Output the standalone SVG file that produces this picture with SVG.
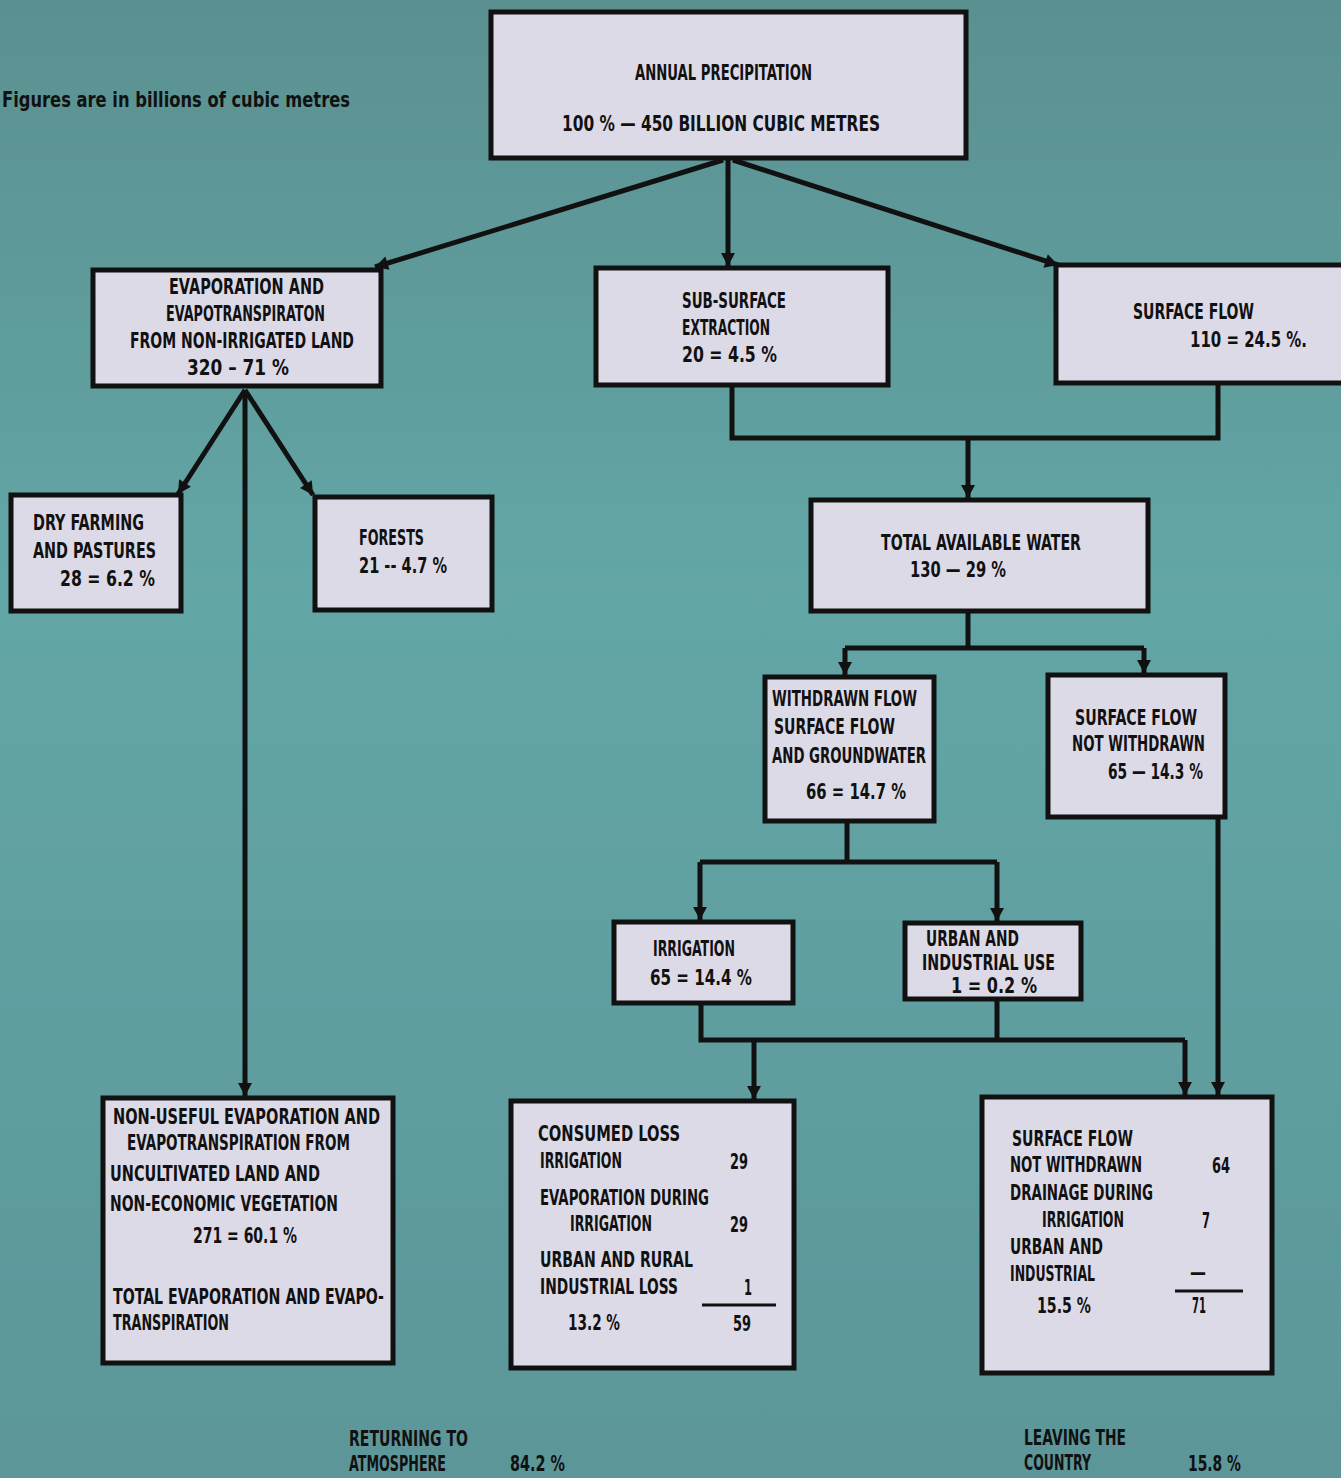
<svg xmlns="http://www.w3.org/2000/svg" width="1341" height="1478" viewBox="0 0 1341 1478">
<defs>
<linearGradient id="bg" x1="0" y1="0" x2="0" y2="1">
<stop offset="0" stop-color="#5b9090"/>
<stop offset="0.4" stop-color="#63a6a6"/>
<stop offset="1" stop-color="#5c9699"/>
</linearGradient>
<marker id="ah" markerUnits="userSpaceOnUse" markerWidth="16" markerHeight="16" viewBox="0 0 16 16" refX="15" refY="8" orient="auto">
<path d="M2,1 L15,8 L2,15 Z" fill="#111"/>
</marker>
<style>
.box{fill:#dddae7;stroke:#111;stroke-width:5}
.c{fill:none;stroke:#111;stroke-width:5;stroke-linejoin:miter}
.a{marker-end:url(#ah)}
text{font-family:"Liberation Sans Narrow","DejaVu Sans Condensed","Liberation Sans",sans-serif;font-weight:bold;font-size:22px;fill:#111}
</style>
</defs>
<rect width="1341" height="1478" fill="url(#bg)"/>

<text x="2" y="107" textLength="348" lengthAdjust="spacingAndGlyphs">Figures are in billions of cubic metres</text>

<g id="connectors">
<path class="c a" d="M723,160 L375,267"/>
<path class="c a" d="M728,160 L728,266"/>
<path class="c a" d="M733,160 L1058,265"/>
<path class="c a" d="M245,390 L178,494"/>
<path class="c a" d="M245,390 L313,495"/>
<path class="c a" d="M245,390 L245,1096"/>
<path class="c" d="M732,386 L732,438 L1218,438 L1218,383"/>
<path class="c a" d="M968,438 L968,498"/>
<path class="c" d="M968,612 L968,648"/>
<path class="c" d="M845,648 L1144,648"/>
<path class="c a" d="M845,648 L845,675"/>
<path class="c a" d="M1144,648 L1144,673"/>
<path class="c" d="M847,822 L847,862"/>
<path class="c" d="M700,862 L997,862"/>
<path class="c a" d="M700,862 L700,920"/>
<path class="c a" d="M997,862 L997,921"/>
<path class="c" d="M701,1004 L701,1040 L1185,1040"/>
<path class="c a" d="M1185,1040 L1185,1095"/>
<path class="c" d="M997,1000 L997,1040"/>
<path class="c a" d="M754,1040 L754,1099"/>
<path class="c a" d="M1218,818 L1218,1095"/>
</g>

<g id="annual-precipitation">
<rect class="box" x="491" y="12" width="475" height="146"/>
<text x="635" y="80" textLength="177" lengthAdjust="spacingAndGlyphs">ANNUAL PRECIPITATION</text>
<text x="562" y="131" textLength="318" lengthAdjust="spacingAndGlyphs">100 % — 450 BILLION CUBIC METRES</text>
</g>

<g id="evaporation">
<rect class="box" x="93" y="270" width="288" height="116"/>
<text x="169" y="294" textLength="155" lengthAdjust="spacingAndGlyphs">EVAPORATION AND</text>
<text x="166" y="321" textLength="159" lengthAdjust="spacingAndGlyphs">EVAPOTRANSPIRATON</text>
<text x="130" y="348" textLength="224" lengthAdjust="spacingAndGlyphs">FROM NON-IRRIGATED LAND</text>
<text x="187" y="375" textLength="102" lengthAdjust="spacingAndGlyphs">320 – 71 %</text>
</g>

<g id="dry-farming">
<rect class="box" x="11" y="495" width="170" height="116"/>
<text x="33" y="530" textLength="111" lengthAdjust="spacingAndGlyphs">DRY FARMING</text>
<text x="33" y="558" textLength="123" lengthAdjust="spacingAndGlyphs">AND PASTURES</text>
<text x="60" y="586" textLength="95" lengthAdjust="spacingAndGlyphs">28 = 6.2 %</text>
</g>

<g id="forests">
<rect class="box" x="315" y="497" width="177" height="113"/>
<text x="359" y="545" textLength="65" lengthAdjust="spacingAndGlyphs">FORESTS</text>
<text x="359" y="573" textLength="88" lengthAdjust="spacingAndGlyphs">21 -- 4.7 %</text>
</g>

<g id="sub-surface">
<rect class="box" x="596" y="268" width="292" height="117"/>
<text x="682" y="308" textLength="104" lengthAdjust="spacingAndGlyphs">SUB-SURFACE</text>
<text x="682" y="335" textLength="88" lengthAdjust="spacingAndGlyphs">EXTRACTION</text>
<text x="682" y="362" textLength="95" lengthAdjust="spacingAndGlyphs">20 = 4.5 %</text>
</g>

<g id="surface-flow">
<rect class="box" x="1056" y="265" width="290" height="118"/>
<text x="1133" y="319" textLength="121" lengthAdjust="spacingAndGlyphs">SURFACE FLOW</text>
<text x="1190" y="347" textLength="117" lengthAdjust="spacingAndGlyphs">110 = 24.5 %.</text>
</g>

<g id="total-available">
<rect class="box" x="811" y="500" width="337" height="111"/>
<text x="881" y="550" textLength="200" lengthAdjust="spacingAndGlyphs">TOTAL AVAILABLE WATER</text>
<text x="910" y="577" textLength="96" lengthAdjust="spacingAndGlyphs">130 — 29 %</text>
</g>

<g id="withdrawn-flow">
<rect class="box" x="765" y="677" width="169" height="144"/>
<text x="772" y="706" textLength="145" lengthAdjust="spacingAndGlyphs">WITHDRAWN FLOW</text>
<text x="774" y="734" textLength="121" lengthAdjust="spacingAndGlyphs">SURFACE FLOW</text>
<text x="772" y="763" textLength="154" lengthAdjust="spacingAndGlyphs">AND GROUNDWATER</text>
<text x="806" y="799" textLength="100" lengthAdjust="spacingAndGlyphs">66 = 14.7 %</text>
</g>

<g id="not-withdrawn">
<rect class="box" x="1048" y="675" width="177" height="142"/>
<text x="1075" y="725" textLength="122" lengthAdjust="spacingAndGlyphs">SURFACE FLOW</text>
<text x="1072" y="751" textLength="133" lengthAdjust="spacingAndGlyphs">NOT WITHDRAWN</text>
<text x="1108" y="779" textLength="95" lengthAdjust="spacingAndGlyphs">65 — 14.3 %</text>
</g>

<g id="irrigation">
<rect class="box" x="614" y="922" width="179" height="81"/>
<text x="653" y="956" textLength="82" lengthAdjust="spacingAndGlyphs">IRRIGATION</text>
<text x="650" y="985" textLength="102" lengthAdjust="spacingAndGlyphs">65 = 14.4 %</text>
</g>

<g id="urban-industrial">
<rect class="box" x="905" y="923" width="176" height="76"/>
<text x="926" y="946" textLength="93" lengthAdjust="spacingAndGlyphs">URBAN AND</text>
<text x="922" y="970" textLength="133" lengthAdjust="spacingAndGlyphs">INDUSTRIAL USE</text>
<text x="951" y="993" textLength="86" lengthAdjust="spacingAndGlyphs">1 = 0.2 %</text>
</g>

<g id="non-useful">
<rect class="box" x="103" y="1098" width="290" height="265"/>
<text x="113" y="1124" textLength="267" lengthAdjust="spacingAndGlyphs">NON-USEFUL EVAPORATION AND</text>
<text x="127" y="1150" textLength="223" lengthAdjust="spacingAndGlyphs">EVAPOTRANSPIRATION FROM</text>
<text x="110" y="1181" textLength="210" lengthAdjust="spacingAndGlyphs">UNCULTIVATED LAND AND</text>
<text x="110" y="1211" textLength="228" lengthAdjust="spacingAndGlyphs">NON-ECONOMIC VEGETATION</text>
<text x="193" y="1243" textLength="104" lengthAdjust="spacingAndGlyphs">271 = 60.1 %</text>
<text x="113" y="1304" textLength="271" lengthAdjust="spacingAndGlyphs">TOTAL EVAPORATION AND EVAPO-</text>
<text x="113" y="1330" textLength="116" lengthAdjust="spacingAndGlyphs">TRANSPIRATION</text>
</g>

<g id="consumed">
<rect class="box" x="511" y="1101" width="283" height="267"/>
<text x="538" y="1141" textLength="142" lengthAdjust="spacingAndGlyphs">CONSUMED LOSS</text>
<text x="540" y="1168" textLength="82" lengthAdjust="spacingAndGlyphs">IRRIGATION</text>
<text x="730" y="1169" textLength="18" lengthAdjust="spacingAndGlyphs">29</text>
<text x="540" y="1205" textLength="169" lengthAdjust="spacingAndGlyphs">EVAPORATION DURING</text>
<text x="570" y="1231" textLength="82" lengthAdjust="spacingAndGlyphs">IRRIGATION</text>
<text x="730" y="1232" textLength="18" lengthAdjust="spacingAndGlyphs">29</text>
<text x="540" y="1267" textLength="153" lengthAdjust="spacingAndGlyphs">URBAN AND RURAL</text>
<text x="540" y="1294" textLength="138" lengthAdjust="spacingAndGlyphs">INDUSTRIAL LOSS</text>
<text x="744" y="1295" textLength="8" lengthAdjust="spacingAndGlyphs">1</text>
<line x1="702" y1="1305" x2="776" y2="1305" stroke="#111" stroke-width="3"/>
<text x="568" y="1330" textLength="52" lengthAdjust="spacingAndGlyphs">13.2 %</text>
<text x="733" y="1331" textLength="18" lengthAdjust="spacingAndGlyphs">59</text>
</g>

<g id="leaving-total">
<rect class="box" x="982" y="1097" width="290" height="276"/>
<text x="1012" y="1146" textLength="121" lengthAdjust="spacingAndGlyphs">SURFACE FLOW</text>
<text x="1010" y="1172" textLength="132" lengthAdjust="spacingAndGlyphs">NOT WITHDRAWN</text>
<text x="1212" y="1173" textLength="18" lengthAdjust="spacingAndGlyphs">64</text>
<text x="1010" y="1200" textLength="143" lengthAdjust="spacingAndGlyphs">DRAINAGE DURING</text>
<text x="1042" y="1227" textLength="82" lengthAdjust="spacingAndGlyphs">IRRIGATION</text>
<text x="1202" y="1228" textLength="8" lengthAdjust="spacingAndGlyphs">7</text>
<text x="1010" y="1254" textLength="93" lengthAdjust="spacingAndGlyphs">URBAN AND</text>
<text x="1010" y="1281" textLength="85" lengthAdjust="spacingAndGlyphs">INDUSTRIAL</text>
<text x="1190" y="1280" textLength="16" lengthAdjust="spacingAndGlyphs">—</text>
<line x1="1175" y1="1291" x2="1243" y2="1291" stroke="#111" stroke-width="3"/>
<text x="1037" y="1313" textLength="54" lengthAdjust="spacingAndGlyphs">15.5 %</text>
<text x="1192" y="1313" textLength="14" lengthAdjust="spacingAndGlyphs">71</text>
</g>

<text x="349" y="1446" textLength="119" lengthAdjust="spacingAndGlyphs">RETURNING TO</text>
<text x="349" y="1471" textLength="97" lengthAdjust="spacingAndGlyphs">ATMOSPHERE</text>
<text x="510" y="1471" textLength="55" lengthAdjust="spacingAndGlyphs">84.2 %</text>
<text x="1024" y="1445" textLength="102" lengthAdjust="spacingAndGlyphs">LEAVING THE</text>
<text x="1024" y="1470" textLength="67" lengthAdjust="spacingAndGlyphs">COUNTRY</text>
<text x="1188" y="1471" textLength="53" lengthAdjust="spacingAndGlyphs">15.8 %</text>
</svg>
